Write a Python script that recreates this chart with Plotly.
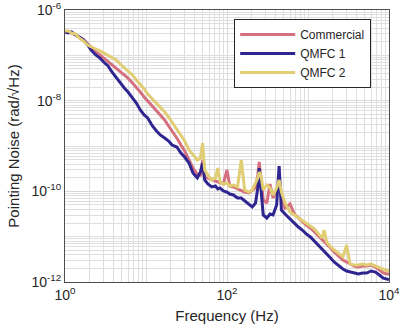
import plotly.graph_objects as go

# frequency grid shared by all three spectra (Hz)
freq = [1, 1.1, 1.2, 1.35, 1.5, 1.7, 1.9, 2.1, 2.4, 2.7,
        3.0, 3.4, 3.8, 4.3, 4.8, 5.4, 6.0, 6.8, 7.6, 8.5,
        9.5, 10.5, 12, 13.5, 15, 17, 19, 21, 24, 27,
        30, 34, 38, 43, 47, 50, 53, 58, 65, 72,
        77, 82, 90, 100, 108, 120, 135, 150, 165, 185,
        205, 225, 240, 250, 262, 280, 310, 340, 370, 410,
        440, 470, 520, 600, 680, 760, 850, 950, 1070, 1200,
        1350, 1500, 1580, 1700, 1900, 2100, 2400, 2700, 3000, 3300,
        3700, 4200, 4700, 5300, 6000, 6800, 7600, 8500, 9500, 10000]

# pointing noise, rad/sqrt(Hz)
commercial = [3.27e-7, 3.27e-7, 3.11e-7, 2.81e-7, 2.54e-7, 2.18e-7, 1.78e-7, 1.45e-7, 1.19e-7, 1.02e-7,
              8.73e-8, 7.50e-8, 6.44e-8, 5.26e-8, 4.51e-8, 3.68e-8, 3.16e-8, 2.45e-8, 2.00e-8, 1.55e-8,
              1.21e-8, 9.84e-9, 7.62e-9, 5.92e-9, 4.83e-9, 3.75e-9, 2.76e-9, 2.14e-9, 1.50e-9, 1.05e-9,
              7.76e-10, 4.91e-10, 3.27e-10, 2.41e-10, 2.29e-10, 4.91e-10, 1.97e-10, 1.97e-10, 1.78e-10, 1.69e-10,
              1.61e-10, 1.53e-10, 1.45e-10, 2.96e-10, 1.31e-10, 1.25e-10, 1.13e-10, 1.07e-10, 9.66e-11, 9.19e-11,
              1.07e-10, 1.19e-10, 2.29e-10, 4.44e-10, 1.97e-10, 6.44e-11, 5.53e-11, 1.45e-10, 7.13e-11, 1.07e-10,
              1.78e-10, 7.13e-11, 4.29e-11, 5.26e-11, 3.16e-11, 2.58e-11, 2.22e-11, 1.81e-11, 1.55e-11, 1.27e-11,
              1.04e-11, 8.44e-12, 8.02e-12, 6.89e-12, 5.62e-12, 4.59e-12, 3.75e-12, 3.05e-12, 2.76e-12, 2.49e-12,
              2.25e-12, 2.14e-12, 2.25e-12, 2.25e-12, 2.37e-12, 2.14e-12, 1.84e-12, 1.58e-12, 1.50e-12, 1.50e-12]

qmfc1 = [3.27e-7, 3.11e-7, 3.27e-7, 2.81e-7, 2.54e-7, 2.18e-7, 1.69e-7, 1.31e-7, 1.02e-7, 8.73e-8,
         7.13e-8, 5.82e-8, 4.29e-8, 3.16e-8, 2.45e-8, 1.90e-8, 1.55e-8, 1.15e-8, 8.89e-9, 6.22e-9,
         4.83e-9, 4.15e-9, 2.76e-9, 2.14e-9, 1.75e-9, 1.50e-9, 1.29e-9, 1.05e-9, 9.51e-10, 7.01e-10,
         5.72e-10, 4.22e-10, 2.54e-10, 1.97e-10, 2.67e-10, 4.22e-10, 1.78e-10, 1.45e-10, 1.25e-10, 1.31e-10,
         1.13e-10, 1.19e-10, 1.02e-10, 9.66e-11, 8.73e-11, 8.30e-11, 7.13e-11, 7.13e-11, 6.12e-11, 5.26e-11,
         4.51e-11, 5.53e-11, 1.19e-10, 3.27e-10, 1.07e-10, 3.01e-11, 2.58e-11, 3.16e-11, 3.01e-11, 5.00e-11,
         3.62e-10, 3.87e-11, 3.16e-11, 2.45e-11, 2.00e-11, 1.63e-11, 1.40e-11, 1.15e-11, 9.84e-12, 8.02e-12,
         6.55e-12, 5.35e-12, 4.83e-12, 4.15e-12, 3.38e-12, 2.76e-12, 2.25e-12, 1.94e-12, 1.75e-12, 1.66e-12,
         1.58e-12, 1.50e-12, 1.58e-12, 1.58e-12, 1.75e-12, 1.66e-12, 1.43e-12, 1.22e-12, 1.16e-12, 1.11e-12]

qmfc2 = [3.44e-7, 3.44e-7, 3.11e-7, 2.96e-7, 2.41e-7, 2.07e-7, 1.69e-7, 1.53e-7, 1.38e-7, 1.25e-7,
         1.13e-7, 1.02e-7, 9.19e-8, 7.89e-8, 6.44e-8, 5.26e-8, 4.51e-8, 3.68e-8, 2.86e-8, 2.33e-8,
         1.81e-8, 1.40e-8, 1.09e-8, 8.44e-9, 7.25e-9, 5.62e-9, 4.36e-9, 3.38e-9, 2.37e-9, 1.75e-9,
         1.29e-9, 8.16e-10, 6.33e-10, 4.91e-10, 5.43e-10, 1.16e-9, 2.96e-10, 2.29e-10, 1.78e-10, 1.97e-10,
         3.27e-10, 1.61e-10, 1.45e-10, 1.53e-10, 1.31e-10, 1.38e-10, 1.25e-10, 4.91e-10, 1.07e-10, 9.66e-11,
         1.07e-10, 1.53e-10, 1.97e-10, 2.67e-10, 2.29e-10, 1.07e-10, 1.38e-10, 1.19e-10, 8.30e-11, 1.19e-10,
         1.78e-10, 9.66e-11, 5.53e-11, 3.50e-11, 3.01e-11, 2.58e-11, 2.33e-11, 2.00e-11, 1.72e-11, 1.48e-11,
         1.15e-11, 9.35e-12, 1.40e-11, 7.62e-12, 5.92e-12, 5.08e-12, 4.15e-12, 3.56e-12, 6.55e-12, 2.49e-12,
         2.37e-12, 2.37e-12, 2.49e-12, 2.37e-12, 2.49e-12, 2.25e-12, 2.04e-12, 1.84e-12, 1.75e-12, 1.84e-12]

x_ticks = [1, 100, 10000]
x_ticktext = ["10<sup>0</sup>", "10<sup>2</sup>", "10<sup>4</sup>"]
y_ticks = [1e-12, 1e-10, 1e-8, 1e-6]
y_ticktext = ["10<sup>-12</sup>", "10<sup>-10</sup>", "10<sup>-8</sup>", "10<sup>-6</sup>"]

series = [
    ("Commercial", commercial, "#d4707f"),
    ("QMFC 1", qmfc1, "#2f2590"),
    ("QMFC 2", qmfc2, "#e0cd74"),
]

fig = go.Figure()
for name, vals, color in series:
    fig.add_trace(go.Scatter(
        x=freq, y=vals, mode="lines", name=name,
        line=dict(color=color, width=3),
    ))

axis_style = dict(
    type="log",
    showgrid=True,
    gridcolor="#d9d9d9",
    gridwidth=1,
    minor=dict(dtick="D1", showgrid=True, gridcolor="#dedede", gridwidth=1),
    showline=True,
    linecolor="#4d4d4d",
    linewidth=1,
    mirror=True,
    ticks="",
    zeroline=False,
    automargin=False,
    tickfont=dict(size=14, color="#262626"),
)

fig.update_xaxes(axis_style, range=[0, 4], tickvals=x_ticks, ticktext=x_ticktext,
                 title=dict(text="Frequency (Hz)", font=dict(size=15, color="#262626"), standoff=8))
fig.update_yaxes(axis_style, range=[-12, -6], tickvals=y_ticks, ticktext=y_ticktext,
                 title=dict(text="Pointing Noise (rad/√Hz)", font=dict(size=15, color="#262626"), standoff=8))

fig.update_layout(
    width=407, height=335,
    margin=dict(l=65, r=18, t=10, b=53),
    paper_bgcolor="white",
    plot_bgcolor="white",
    font=dict(family="Liberation Sans, Arial, sans-serif", color="#262626"),
    showlegend=True,
    legend=dict(
        x=0.945, y=0.967, xanchor="right", yanchor="top",
        bgcolor="white", bordercolor="#262626", borderwidth=1,
        font=dict(size=12), itemwidth=55, tracegroupgap=0,
    ),
)

# the page's default body margin would shift the whole figure by 8 px
fig.write_html("out.html", config={"displayModeBar": False},
               post_script="document.body.style.margin = '0';")
